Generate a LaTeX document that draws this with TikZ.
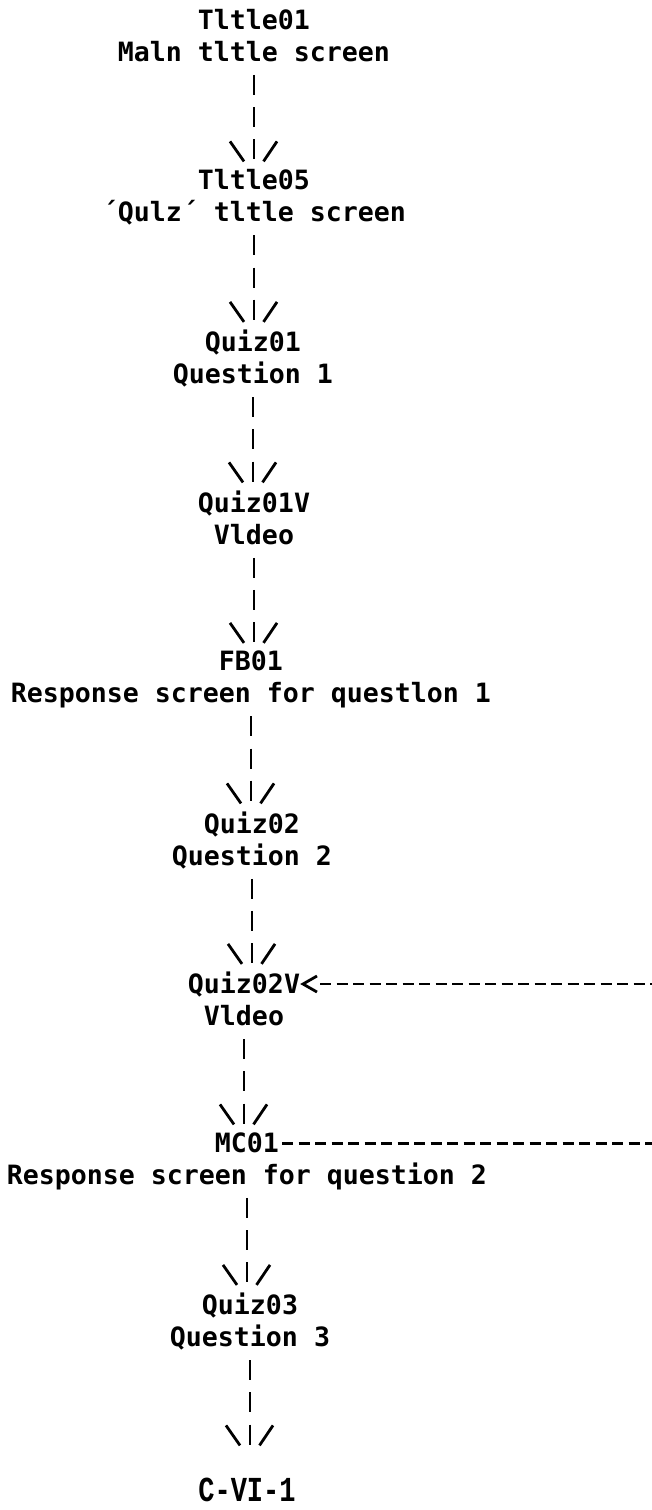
\documentclass[tikz,border=0pt]{standalone}
\usepackage{fontspec}
\usepackage{graphicx}
\usetikzlibrary{calc}

% printer-style monospaced faces
\newfontfamily\dotfont{DejaVu Sans Mono}
\newfontfamily\stampfont{Liberation Mono}
\newcommand\gridfont{\dotfont\bfseries\fontsize{26.58pt}{32.1pt}\selectfont}

\tikzset{
  screen/.style={align=center, inner sep=0pt, outer sep=0pt, anchor=north,
    font=\gridfont, execute at begin node=\strut, execute at end node=\strut},
  stamp/.style={inner sep=0pt, font=\stampfont\bfseries\fontsize{27pt}{30pt}\selectfont},
  % the "|" "|" "\|/" column between two screens
  bars/.style={line width=2.8pt, line cap=butt, shorten <=4.1pt, shorten >=8pt,
    dash pattern=on 20pt off 12.1pt},
  fan/.style={line width=2.8pt, line cap=butt},
  rule/.style={line width=2.8pt, line cap=butt, dash pattern=on 11pt off 5.5pt},
  chev/.style={line width=2.8pt, line join=miter, line cap=butt},
}

% vertical link: two bars and a \|/ head ending above the target point
\newcommand\flowlink[2]{%
  \draw[bars] (#1.south) -- (#1.south |- #2);
  \draw[fan] ($(#1.south |- #2)+(-24,-28)$) -- ++(14,20);
  \draw[fan] ($(#1.south |- #2)+(23,-28)$) -- ++(-13.5,20);
}

\begin{document}
\begin{tikzpicture}[x=1pt,y=-1pt]
  \useasboundingbox[fill=white] (0,0) rectangle (652,1510);

  \node[screen] (t01)  at (254,8.9)    {Tltle01\\Maln tltle screen};
  \node[screen] (t05)  at (254,169.4)  {Tltle05\\´Qulz´ tltle screen};
  \node[screen] (q01)  at (253,329.9)  {Quiz01\\Question 1};
  \node[screen] (q01v) at (254,490.4)  {Quiz01V\\Vldeo};
  \node[screen] (fb01) at (251,650.9)  {FB01\\Response screen for questlon 1};
  \node[screen] (q02)  at (252,811.4)  {Quiz02\\Question 2};
  \node[screen] (q02v) at (244,971.9)  {Quiz02V\\Vldeo};
  \node[screen] (mc01) at (247,1132.4) {MC01\\Response screen for question 2};
  \node[screen] (q03)  at (250,1292.9) {Quiz03\\Question 3};
  \coordinate (cont) at (250,1453.4);
  \node[stamp] (page) at (247,1490) {\scalebox{1}[1.3]{C-VI-1}};

  \flowlink{t01}{t05.north}
  \flowlink{t05}{q01.north}
  \flowlink{q01}{q01v.north}
  \flowlink{q01v}{fb01.north}
  \flowlink{fb01}{q02.north}
  \flowlink{q02}{q02v.north}
  \flowlink{q02v}{mc01.north}
  \flowlink{mc01}{q03.north}
  \flowlink{q03}{cont}

  % return line coming in from the right into Quiz02V
  \coordinate (retin) at (652,984);
  \coordinate (retport) at ($(q02v.north east)+(0,12.1)$);
  \draw[rule] ($(retport)+(20,0)$) -- (retin);
  \draw[chev] ($(retport)+(17,-8)$) -- ($(retport)+(3,0)$) -- ($(retport)+(17,8)$);

  % line leaving MC01 to the right
  \coordinate (retout) at (652,1143.5);
  \draw[rule] ($(mc01.north)+(35,11.1)$) -- (retout);
\end{tikzpicture}
\end{document}
